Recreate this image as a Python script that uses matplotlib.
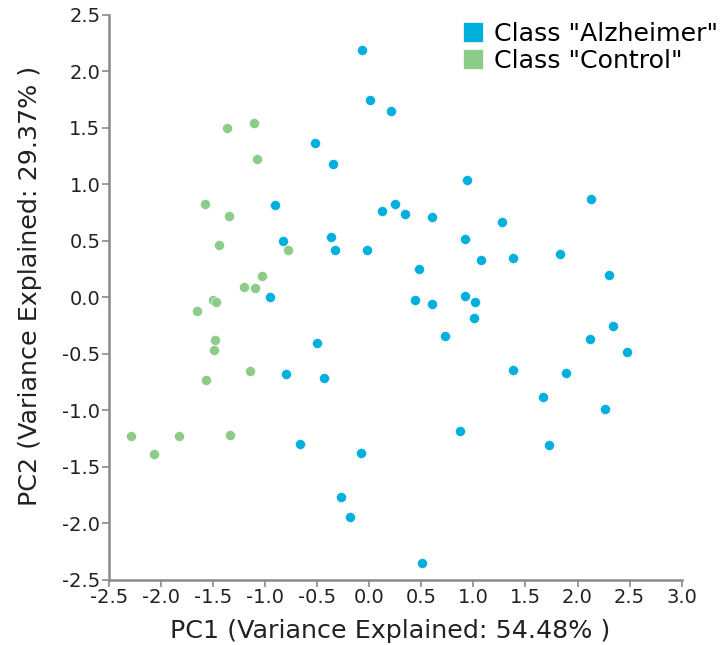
import numpy as np
import matplotlib
matplotlib.use("Agg")
import matplotlib.pyplot as plt
from matplotlib.lines import Line2D

plt.rcParams["font.family"] = ["DejaVu Sans"]
plt.rcParams["axes.unicode_minus"] = False

# PCA scores
alz_pc1 = [-0.07, 0.01, 0.21, -0.52, -0.35, 0.94, 2.13, -0.90, 0.25, 0.12,
           0.34, 0.60, 1.27, -0.83, -0.37, -0.33, -0.02, 0.92, 1.07, 1.38,
           1.83, 2.30, 0.48, -0.95, 0.44, 0.60, 0.92, 1.02, 1.01, 0.73,
           2.34, 2.12, 2.47, -0.50, -0.80, -0.43, 1.38, 1.89, 1.67, 2.26,
           0.87, 1.73, -0.66, -0.08, -0.27, -0.18, 0.51]
alz_pc2 = [2.19, 1.75, 1.65, 1.37, 1.18, 1.04, 0.87, 0.82, 0.83, 0.76,
           0.74, 0.71, 0.67, 0.50, 0.53, 0.42, 0.42, 0.52, 0.33, 0.35,
           0.38, 0.20, 0.25, 0.00, -0.02, -0.06, 0.01, -0.04, -0.18, -0.34,
           -0.25, -0.37, -0.48, -0.40, -0.68, -0.71, -0.64, -0.67, -0.88, -0.99,
           -1.18, -1.31, -1.30, -1.38, -1.77, -1.94, -2.35]

ctl_pc1 = [-1.37, -1.11, -1.08, -1.58, -1.35, -1.44, -0.78, -1.03, -1.20, -1.10,
           -1.50, -1.47, -1.65, -1.48, -1.49, -1.14, -1.57, -2.29, -1.83, -1.34,
           -2.07]
ctl_pc2 = [1.50, 1.54, 1.22, 0.83, 0.72, 0.46, 0.42, 0.19, 0.09, 0.08,
           -0.02, -0.04, -0.12, -0.38, -0.47, -0.65, -0.73, -1.23, -1.23, -1.22,
           -1.39]

labels = ['Class "Alzheimer"', 'Class "Control"']
colors = ["#00B0DC", "#8DCB89"]

xticks = np.arange(-2.5, 3.01, 0.5)
yticks = np.arange(-2.5, 2.51, 0.5)

fig = plt.figure(figsize=(7.27, 6.45), dpi=100)
ax = fig.add_axes([0.1497, 0.101, 0.788, 0.876])

ax.scatter(ctl_pc1, ctl_pc2, s=52, color=colors[1], edgecolor="white", linewidth=0.4, zorder=3)
ax.scatter(alz_pc1, alz_pc2, s=52, color=colors[0], edgecolor="white", linewidth=0.4, zorder=3)

ax.set_xlim(-2.5, 3.0)
ax.set_ylim(-2.5, 2.5)
ax.set_xticks(xticks)
ax.set_yticks(yticks)
ax.set_xticklabels([f"{v:.1f}" for v in xticks])
ax.set_yticklabels([f"{v:.1f}" for v in yticks])

for side in ("top", "right"):
    ax.spines[side].set_visible(False)
for side in ("left", "bottom"):
    ax.spines[side].set_color("#8a8a8a")
    ax.spines[side].set_linewidth(1.8)
ax.tick_params(direction="out", length=5, width=1.2, color="#8a8a8a",
               labelsize=14, labelcolor="#222222", pad=1)

ax.set_xlabel("PC1 (Variance Explained: 54.48% )", fontsize=18.3, color="#222222")
ax.set_ylabel("PC2 (Variance Explained: 29.37% )", fontsize=18.3, color="#222222")
ax.xaxis.set_label_coords(0.4915, -0.069)
ax.yaxis.set_label_coords(-0.1165, 0.52)

handles = [Line2D([], [], marker="s", linestyle="none", markersize=15,
                  markerfacecolor=c, markeredgecolor="white", markeredgewidth=0.5)
           for c in colors]
fig.legend(handles, labels, loc="upper left", bbox_to_anchor=(462 / 727, 1 - 22 / 645),
           frameon=False, fontsize=18.2, handletextpad=0.38, borderaxespad=0,
           borderpad=0, labelspacing=0.12, handlelength=0.9)

fig.savefig("out.png", dpi=100)
